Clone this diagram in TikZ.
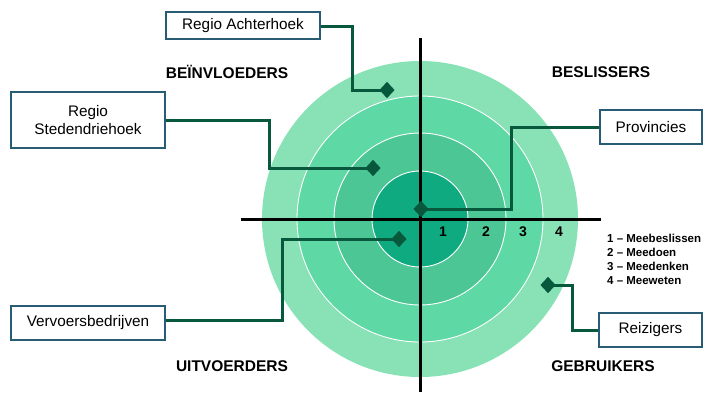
\documentclass[tikz,border=0pt]{standalone}
\usepackage{fontspec}
\setmainfont{Liberation Sans}
\usetikzlibrary{shapes.geometric}
\definecolor{ringA}{RGB}{16,170,128}
\definecolor{ringB}{RGB}{77,198,150}
\definecolor{ringC}{RGB}{94,216,164}
\definecolor{ringD}{RGB}{136,226,182}
\definecolor{conn}{RGB}{8,88,62}
\definecolor{boxline}{RGB}{40,92,116}
\tikzset{
  actor/.style={draw=boxline, line width=1.2pt, fill=white, inner sep=2pt, align=center,
    font=\fontsize{15.3}{18}\selectfont},
  cat/.style={font=\fontsize{15.5}{18}\selectfont\bfseries},
  num/.style={font=\fontsize{14}{16}\selectfont\bfseries},
  mark/.style={},
  pin/.style={diamond, fill=conn, inner sep=0pt, minimum width=15pt, minimum height=16pt},
  link/.style={draw=conn, line width=3pt},
  axis/.style={draw=black, line width=3pt},
  ring/.style={draw=white, line width=0.9pt}
}
\begin{document}
\begin{tikzpicture}[x=1pt,y=-1pt]
\useasboundingbox (0,0) rectangle (703,392);
% rings
\fill[ringD] (420,219) circle (158);
\filldraw[ring, fill=ringC] (420,219) circle (123);
\filldraw[ring, fill=ringB] (420,219) circle (86);
\filldraw[ring, fill=ringA] (420,219) circle (48);
% axes
\coordinate (hl) at (241,219);
\coordinate (hr) at (601,219);
\coordinate (vt) at (420,38);
\coordinate (vb) at (420,392);
\draw[axis] (hl) -- (hr);
\draw[axis] (vt) -- (vb);
% numbers
\node[num] (n1) at (443,232) {1};
\node[num] (n2) at (486,232) {2};
\node[num] (n3) at (523,232) {3};
\node[num] (n4) at (559,232) {4};
% boxes
\node[actor, minimum width=154pt, minimum height=27pt] (ach) at (243,25.5) {Regio Achterhoek};
\node[actor, minimum width=154pt, minimum height=56pt] (sted) at (88,120) {Regio\\Stedendriehoek};
\node[actor, minimum width=102pt, minimum height=34pt] (prov) at (651,127) {Provincies};
\node[actor, minimum width=154pt, minimum height=34pt] (verv) at (88,323) {Vervoersbedrijven};
\node[actor, minimum width=103pt, minimum height=34pt] (reiz) at (650.5,330) {Reizigers};
% diamonds
\node[pin] (d1) at (387,90) {};
\node[pin] (d2) at (373,168) {};
\node[pin] (d3) at (421,209) {};
\node[pin] (d4) at (399,239) {};
\node[pin] (d5) at (548,285) {};
% connectors
\draw[link] ([yshift=-1pt]ach.east) -- ++(32,0) |- (d1.center);
\draw[link] (sted.east) -- ++(104,0) |- (d2.center);
\draw[link] (prov.west) -- ++(-88,0) |- (d3.center);
\draw[link] ([yshift=3pt]verv.east) -- ++(117,0) |- (d4.center);
\draw[link] (reiz.west) -- ++(-26,0) |- (d5.center);
% redraw diamonds on top
\node[pin] at (d1) {};
\node[pin] at (d2) {};
\node[pin] at (d3) {};
\node[pin] at (d4) {};
\node[pin] at (d5) {};
% category labels
\node[cat] (c1) at (227,72) {BEÏNVLOEDERS};
\node[cat] (c2) at (601,72) {BESLISSERS};
\node[cat] (c3) at (232,366) {UITVOERDERS};
\node[cat] (c4) at (603,366) {GEBRUIKERS};
% legend
\node[anchor=north west, inner sep=0pt, align=left, font=\fontsize{11.5}{14}\selectfont\bfseries] (leg) at (607,234)
  {1 – Meebeslissen\\2 – Meedoen\\3 – Meedenken\\4 – Meeweten};
\end{tikzpicture}
\end{document}
